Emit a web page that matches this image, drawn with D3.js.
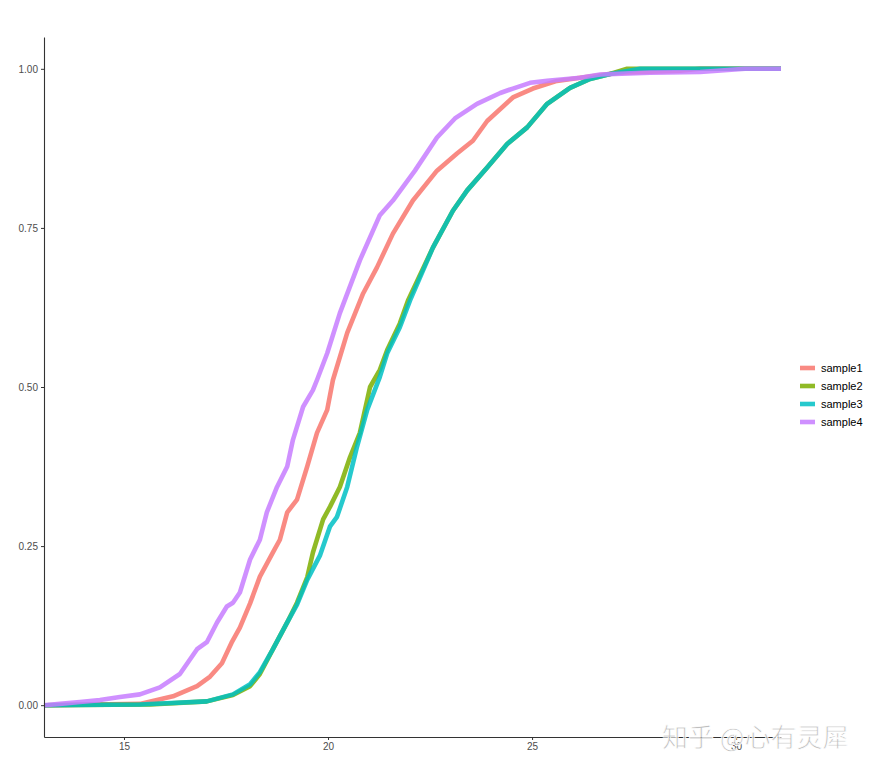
<!DOCTYPE html>
<html>
<head>
<meta charset="utf-8">
<script src="https://cdn.jsdelivr.net/npm/d3@7"></script>
<style>
  body { margin: 0; background: #fff; }
  svg text { font-family: "Liberation Sans", Arial, sans-serif; }
</style>
</head>
<body>
<svg id="chart" width="871" height="771"></svg>
<script>
// ECDF curves, [value, cumulative fraction]
var sample1 = [[15.39,0.002],[16.20,0.014],[16.79,0.030],[17.11,0.045],[17.40,0.066],[17.65,0.100],
  [17.84,0.122],[18.09,0.160],[18.33,0.202],[18.65,0.240],[18.82,0.260],[19.00,0.303],[19.24,0.323],
  [19.49,0.375],[19.73,0.428],[19.98,0.464],[20.12,0.511],[20.47,0.585],[20.86,0.647],[21.20,0.688],
  [21.59,0.741],[22.08,0.793],[22.67,0.840],[23.16,0.867],[23.55,0.887],[23.90,0.918],[24.53,0.955],
  [25.02,0.969],[25.61,0.981],[26.18,0.986],[27.16,0.994],[28.63,0.997],[29.12,1.000]];

var sample2 = [[15.64,0.001],[17.03,0.006],[17.67,0.016],[18.09,0.030],[18.33,0.049],[18.65,0.088],
  [19.00,0.130],[19.24,0.161],[19.49,0.201],[19.63,0.240],[19.88,0.292],[20.05,0.312],[20.29,0.343],
  [20.54,0.390],[20.78,0.428],[21.03,0.500],[21.27,0.527],[21.45,0.558],[21.76,0.600],[21.96,0.636],
  [22.57,0.719],[23.06,0.777],[23.41,0.809],[23.90,0.845],[24.39,0.882],[24.88,0.908],[25.37,0.945],
  [25.93,0.970],[26.42,0.984],[26.91,0.992],[27.33,1.000]];

var sample3 = [[15.39,0.001],[17.03,0.006],[17.67,0.017],[18.09,0.033],[18.33,0.052],[18.65,0.088],
  [19.00,0.130],[19.24,0.158],[19.49,0.197],[19.80,0.235],[20.05,0.281],[20.22,0.296],[20.47,0.343],
  [20.71,0.406],[20.96,0.464],[21.27,0.516],[21.45,0.553],[21.76,0.594],[22.01,0.636],[22.57,0.719],
  [23.06,0.777],[23.41,0.809],[23.90,0.845],[24.39,0.882],[24.88,0.908],[25.37,0.945],[25.93,0.970],
  [26.42,0.984],[26.91,0.992],[27.65,1.000]];

var sample4 = [[13.43,0.002],[13.92,0.005],[14.41,0.008],[14.90,0.013],[15.39,0.017],[15.88,0.028],
  [16.37,0.049],[16.79,0.088],[17.03,0.099],[17.28,0.130],[17.52,0.155],[17.67,0.161],[17.84,0.177],
  [18.09,0.229],[18.33,0.260],[18.50,0.303],[18.75,0.343],[19.00,0.375],[19.14,0.417],[19.39,0.469],
  [19.63,0.495],[19.73,0.511],[19.98,0.553],[20.29,0.616],[20.78,0.699],[21.27,0.770],[21.59,0.793],
  [22.13,0.840],[22.67,0.892],[23.11,0.922],[23.65,0.945],[24.22,0.962],[24.53,0.969],[24.95,0.978],
  [25.37,0.981],[26.18,0.986],[26.67,0.991],[27.89,0.994],[29.12,0.995],[30.22,1.000]];

var sampleNames = ["sample1", "sample2", "sample3", "sample4"];
var sampleColors = ["#F8766D", "#7CAE00", "#00BFC4", "#C77CFF"];
var xTicks = [15, 20, 25, 30];
var yTicks = [0, 0.25, 0.5, 0.75, 1];

var series = [sample1, sample2, sample3, sample4];

var svg = d3.select("#chart");
var panel = { left: 44, right: 781, top: 37, bottom: 737 };

var x = d3.scaleLinear().domain([13.04, 31.1]).range([panel.left, panel.right]);
var y = d3.scaleLinear().domain([-0.05, 1.05]).range([panel.bottom, panel.top]);

// lines, padded to the panel edges like stat_ecdf(pad = TRUE)
var line = d3.line()
  .x(function(d){ return x(d[0]); })
  .y(function(d){ return y(d[1]); });

series.forEach(function(s, i){
  var pts = [[x.domain()[0], 0]].concat(s, [[x.domain()[1], 1]]);
  svg.append("path")
    .datum(pts)
    .attr("d", line)
    .attr("fill", "none")
    .attr("stroke", sampleColors[i])
    .attr("stroke-opacity", 0.85)
    .attr("stroke-width", 4.6)
    .attr("stroke-linejoin", "round");
});

// axes
var xAxis = svg.append("g")
  .attr("transform", "translate(0," + panel.bottom + ")")
  .call(d3.axisBottom(x).tickValues(xTicks).tickSize(3).tickSizeOuter(0).tickPadding(3));
var yAxis = svg.append("g")
  .attr("transform", "translate(" + panel.left + ",0)")
  .call(d3.axisLeft(y).tickValues(yTicks).tickSize(3).tickSizeOuter(0).tickPadding(3)
    .tickFormat(d3.format(".2f")));

[xAxis, yAxis].forEach(function(a){
  a.select(".domain").attr("stroke", "#333").attr("stroke-width", 1.1);
  a.selectAll(".tick line").attr("stroke", "#333");
  a.selectAll(".tick text").attr("fill", "#4d4d4d").style("font-size", "10px");
});

// legend
var legend = svg.append("g").attr("transform", "translate(799,368)");
sampleNames.forEach(function(name, i){
  var g = legend.append("g").attr("transform", "translate(0," + (i * 18) + ")");
  g.append("line")
    .attr("x1", 1).attr("x2", 16).attr("y1", 0).attr("y2", 0)
    .attr("stroke", sampleColors[i])
    .attr("stroke-opacity", 0.85)
    .attr("stroke-width", 4.6);
  g.append("text")
    .attr("x", 22).attr("y", 4)
    .style("font-size", "11px")
    .attr("fill", "#000")
    .text(name);
});

// watermark (sits over the last x tick label, as in the original)
svg.append("text")
  .attr("x", 662).attr("y", 747)
  .style("font-family", "'Noto Sans CJK SC', sans-serif")
  .style("font-size", "26px")
  .attr("fill", "#aaa")
  .attr("fill-opacity", 0.75)
  .attr("stroke", "#fff")
  .attr("stroke-width", 0.8)
  .text("知乎 @心有灵犀");
</script>
</body>
</html>
